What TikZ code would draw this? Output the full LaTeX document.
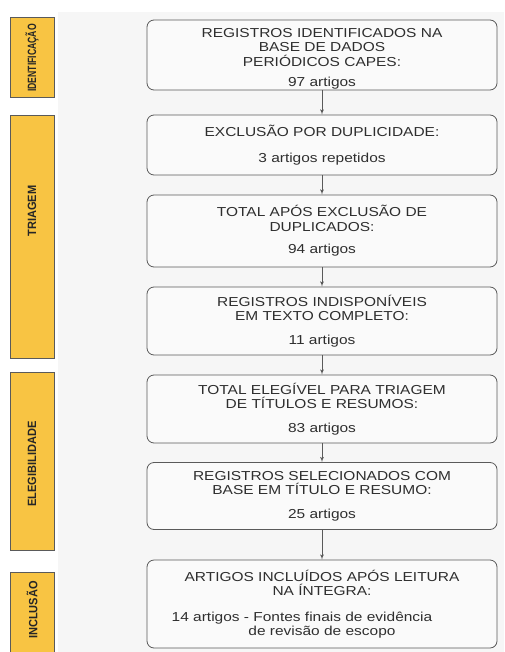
\documentclass[tikz,border=0pt]{standalone}
\usepackage{fontspec}
\setmainfont{Liberation Sans}[FakeStretch=1.19]
\newfontfamily\fasefonte{Liberation Sans}[FakeStretch=0.92]
\newfontfamily\faseestreita{Liberation Sans}[FakeStretch=0.72]
\usepackage{tikz}
\usetikzlibrary{arrows}
\usetikzlibrary{positioning}
\definecolor{faixa}{HTML}{F8C443}
\definecolor{borda}{HTML}{5A5A5A}
\definecolor{texto}{HTML}{2E2E2E}
\definecolor{fundo}{HTML}{F6F6F6}
\tikzset{etapa/.style = {draw = borda, fill = fundo!60!white, rounded corners = 7,
                         line width = 0.8, minimum width = 350, align = center,
                         text = texto, font = \fontsize{13}{14.5}\selectfont, inner sep = 0}}
\tikzset{fase/.style = {draw = borda, fill = faixa, line width = 0.8, minimum width = 44,
                        inner sep = 0}}
\tikzset{rotulo/.style = {rotate = 90, font = \fasefonte\bfseries\fontsize{12}{13}\selectfont,
                          text = black!85}}

\begin{document}
\begin{tikzpicture}[x = 1pt, y = -1pt, >=latex']
      \useasboundingbox (0, 0) rectangle (504, 652);
      \fill [white] (0, 0) rectangle (504, 652);
      \fill [fundo] (58, 12) rectangle (504, 652);

      \node (fid) [fase, minimum height = 80] at (32, 57) {};
      \node [rotulo] at (32, 58) {\faseestreita IDENTIFICAÇÃO};
      \node (ftr) [fase, minimum height = 243] at (32, 236.5) {};
      \node [rotulo] at (32, 211) {TRIAGEM};
      \node (fel) [fase, minimum height = 178] at (32, 461) {};
      \node [rotulo] at (32, 464) {ELEGIBILIDADE};
      \node (fin) [fase, minimum height = 84] at (32, 614) {};
      \node [rotulo] at (32, 610) {INCLUSÃO};

      \node (reg) [etapa, minimum height = 70] at (322, 55)
        {\rule{0pt}{17pt}REGISTROS IDENTIFICADOS NA\\BASE DE DADOS\\PERIÓDICOS CAPES:\\[6pt]97 artigos};
      \node (dup) [etapa, minimum height = 60] at (322, 145)
        {EXCLUSÃO POR DUPLICIDADE:\\[12pt]3 artigos repetidos};
      \node (tot) [etapa, minimum height = 72] at (322, 231)
        {TOTAL APÓS EXCLUSÃO DE\\DUPLICADOS:\\[8pt]94 artigos};
      \node (ind) [etapa, minimum height = 68] at (322, 321)
        {REGISTROS INDISPONÍVEIS\\EM TEXTO COMPLETO:\\[9pt]11 artigos};
      \node (ele) [etapa, minimum height = 68] at (322, 409)
        {TOTAL ELEGÍVEL PARA TRIAGEM\\DE TÍTULOS E RESUMOS:\\[9pt]83 artigos};
      \node (sel) [etapa, minimum height = 67] at (322, 496)
        {REGISTROS SELECIONADOS COM\\BASE EM TÍTULO E RESUMO:\\[9pt]25 artigos};
      \node (inc) [etapa, minimum height = 88] at (322, 604)
        {ARTIGOS INCLUÍDOS APÓS LEITURA\\NA ÍNTEGRA:\\[11pt]\hspace*{-40pt}14 artigos - Fontes finais de evidência\\de revisão de escopo};

      \draw [->, borda, line width = 0.8] (reg) -- (dup);
      \draw [->, borda, line width = 0.8] (dup) -- (tot);
      \draw [->, borda, line width = 0.8] (tot) -- (ind);
      \draw [->, borda, line width = 0.8] (ind) -- (ele);
      \draw [->, borda, line width = 0.8] (ele) -- (sel);
      \draw [->, borda, line width = 0.8] (sel) -- (inc);
    \end{tikzpicture}
\end{document}
